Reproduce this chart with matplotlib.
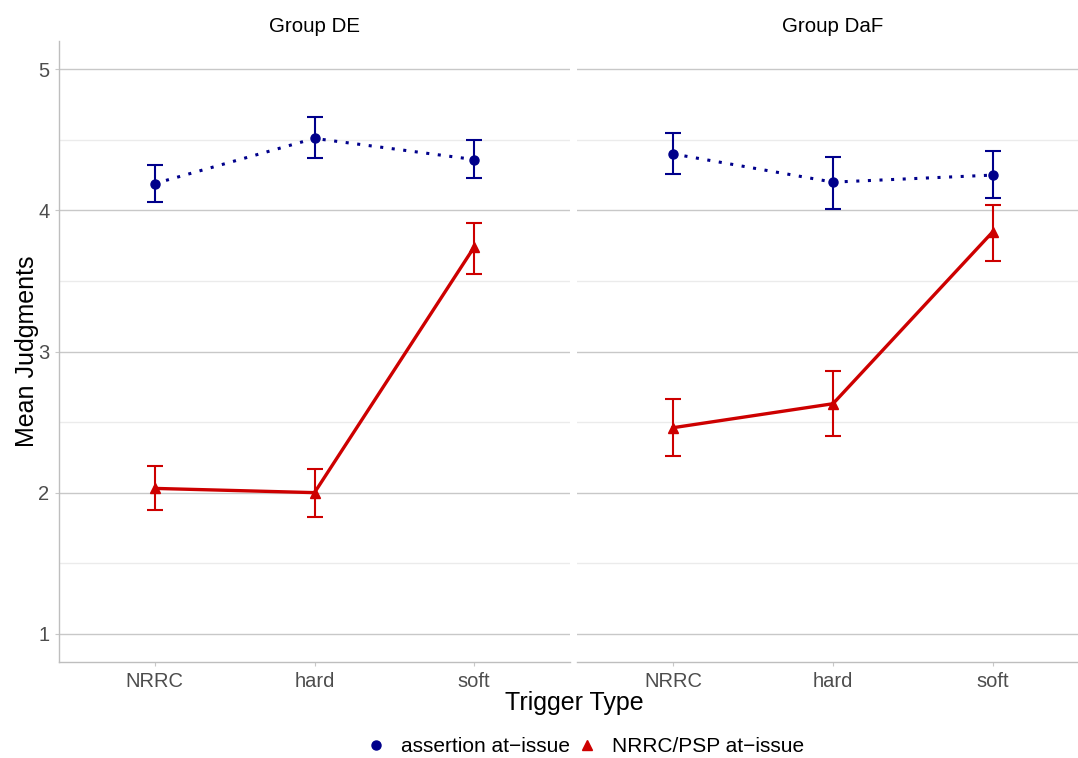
import numpy as np
import matplotlib.pyplot as plt
from matplotlib.lines import Line2D

plt.rcParams['font.family'] = ['Liberation Sans', 'DejaVu Sans']

triggers = ['NRRC', 'hard', 'soft']
groups = ['Group DE', 'Group DaF']

# mean judgments and error bar ends, per group: [NRRC, hard, soft]
assert_mean = {'Group DE': [4.19, 4.51, 4.36], 'Group DaF': [4.40, 4.20, 4.25]}
assert_lo   = {'Group DE': [4.06, 4.37, 4.23], 'Group DaF': [4.26, 4.01, 4.09]}
assert_hi   = {'Group DE': [4.32, 4.66, 4.50], 'Group DaF': [4.55, 4.38, 4.42]}

psp_mean = {'Group DE': [2.03, 2.00, 3.74], 'Group DaF': [2.46, 2.63, 3.85]}
psp_lo   = {'Group DE': [1.88, 1.83, 3.55], 'Group DaF': [2.26, 2.40, 3.64]}
psp_hi   = {'Group DE': [2.19, 2.17, 3.91], 'Group DaF': [2.66, 2.86, 4.04]}

blue = '#00008B'
red = '#CD0000'
grey_txt = '#4D4D4D'

fig = plt.figure(figsize=(10.78, 7.58), dpi=100)
W, H = 1078, 758
panels = [(59, 570), (577, 1089)]
top, bottom = 41, 662

x = np.arange(1, 4)
for i, (g, (x0, x1)) in enumerate(zip(groups, panels)):
    ax = fig.add_axes([x0 / W, (H - bottom) / H, (x1 - x0) / W, (bottom - top) / H])
    ax.set_xlim(0.4, 3.6)
    ax.set_ylim(0.8, 5.2)

    # horizontal grid only
    for yv in [1.5, 2.5, 3.5, 4.5]:
        ax.axhline(yv, color='#EBEBEB', lw=1.0, zorder=0)
    for yv in [1, 2, 3, 4, 5]:
        ax.axhline(yv, color='#C8C8C8', lw=1.0, zorder=0)

    am = np.array(assert_mean[g])
    ax.errorbar(x, am, yerr=[am - np.array(assert_lo[g]), np.array(assert_hi[g]) - am],
                fmt='none', ecolor=blue, elinewidth=1.5, capsize=6, capthick=1.5, zorder=3)
    ax.plot(x, am, color=blue, lw=2.2, linestyle=(0, (1, 2.8)), dash_capstyle='butt', zorder=3)
    ax.plot(x, am, 'o', color=blue, ms=6.5, zorder=4)

    pm = np.array(psp_mean[g])
    ax.errorbar(x, pm, yerr=[pm - np.array(psp_lo[g]), np.array(psp_hi[g]) - pm],
                fmt='none', ecolor=red, elinewidth=1.5, capsize=6, capthick=1.5, zorder=3)
    ax.plot(x, pm, color=red, lw=2.4, zorder=3)
    ax.plot(x, pm, '^', color=red, ms=7.5, zorder=4)

    ax.set_xticks(x)
    ax.set_xticklabels(triggers, fontsize=14.5, color=grey_txt)
    ax.tick_params(axis='x', length=3, width=0.8, color='#C8C8C8', pad=4)
    for s in ['top', 'right']:
        ax.spines[s].set_visible(False)
    ax.spines['bottom'].set_color('#BEBEBE')
    ax.spines['bottom'].set_linewidth(1.0)
    if i == 0:
        ax.set_yticks([1, 2, 3, 4, 5])
        ax.set_yticklabels(['1', '2', '3', '4', '5'], fontsize=14.5, color=grey_txt)
        ax.tick_params(axis='y', length=3, width=0.8, color='#C8C8C8', pad=4)
        ax.spines['left'].set_color('#BEBEBE')
        ax.spines['left'].set_linewidth(1.0)
    else:
        ax.set_yticks([])
        ax.spines['left'].set_visible(False)

    ax.text(0.5 * (x0 + x1) / W, 1 - 27 / H, g, transform=fig.transFigure,
            ha='center', va='center', fontsize=14.8, color='black')

fig.text(574 / W, 1 - 703 / H, 'Trigger Type', ha='center', va='center', fontsize=18)
fig.text(27 / W, 1 - 351 / H, 'Mean Judgments', ha='center', va='center',
         rotation=90, fontsize=18)

handles = [
    Line2D([], [], marker='o', color=blue, linestyle='none', ms=6.5),
    Line2D([], [], marker='^', color=red, linestyle='none', ms=7.5),
]
fig.legend(handles, ['assertion at\u2212issue', 'NRRC/PSP at\u2212issue'],
           loc='center', bbox_to_anchor=(585 / W, 1 - 747 / H), ncol=2, frameon=False,
           fontsize=15, handlelength=1.0, handletextpad=0.7, columnspacing=0.3)

fig.savefig('out.png', dpi=100)
